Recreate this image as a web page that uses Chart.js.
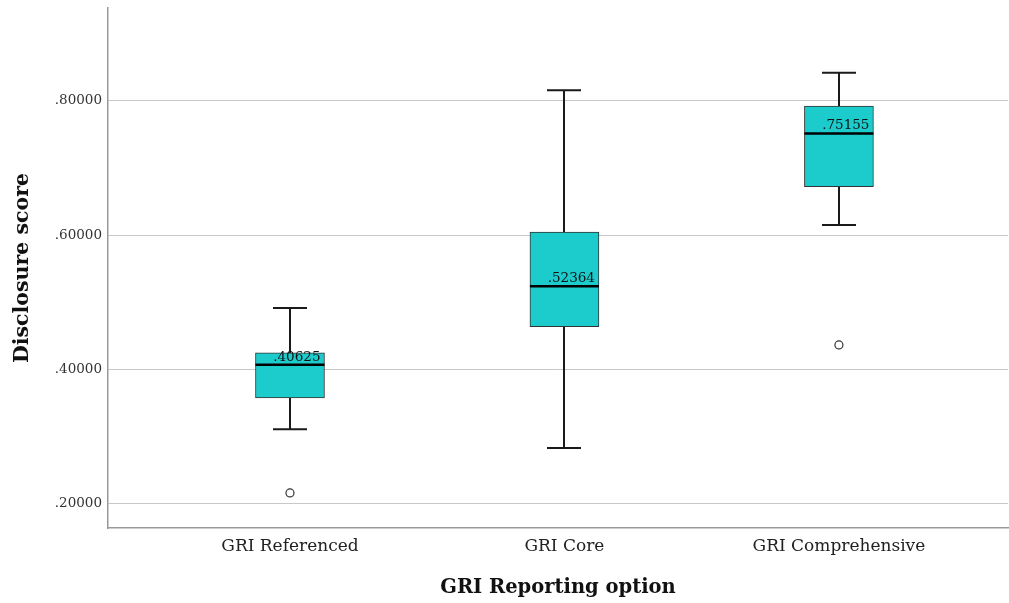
<!DOCTYPE html>
<html>
<head>
<meta charset="utf-8">
<script src="https://cdn.jsdelivr.net/npm/chart.js@4/dist/chart.umd.min.js"></script>
<style>
html,body{margin:0;padding:0;background:#fff;}
#wrap{width:1009px;height:603px;position:relative;}
</style>
</head>
<body>
<div id="wrap"><canvas id="c" width="1009" height="603"></canvas></div>
<script>
const categories = ["GRI Referenced", "GRI Core", "GRI Comprehensive"];
const whiskerLow = [0.310, 0.282, 0.615];
const q1 = [0.357, 0.463, 0.672];
const median = [0.40625, 0.52364, 0.75155];
const q3 = [0.424, 0.6045, 0.7925];
const whiskerHigh = [0.491, 0.816, 0.842];
const outliers = [[0.215], [], [0.436]];
const yTicks = [0.2, 0.4, 0.6, 0.8];

const SERIF = '"DejaVu Serif", "Liberation Serif", serif';

const boxData = categories.map((c, i) => ({ x: i + 1, y: [q1[i], q3[i]] }));
const outlierData = [];
outliers.forEach((arr, i) => arr.forEach(v => outlierData.push({ x: i + 1, y: v })));

const fmt = v => v.toFixed(5).replace(/^0/, '');

const boxPlugin = {
  id: 'boxExtras',
  beforeDatasetsDraw(chart) {
    const ctx = chart.ctx, xs = chart.scales.x, ys = chart.scales.y;
    ctx.save();
    ctx.strokeStyle = '#1a1a1a';
    ctx.lineWidth = 2;
    const capHalf = 17;
    categories.forEach((c, i) => {
      const x = Math.round(xs.getPixelForValue(i + 1));
      const yh = ys.getPixelForValue(whiskerHigh[i]);
      const yq3 = ys.getPixelForValue(q3[i]);
      const yq1 = ys.getPixelForValue(q1[i]);
      const yl = ys.getPixelForValue(whiskerLow[i]);
      ctx.beginPath();
      ctx.moveTo(x, yh); ctx.lineTo(x, yq3);
      ctx.moveTo(x, yq1); ctx.lineTo(x, yl);
      ctx.moveTo(x - capHalf, yh); ctx.lineTo(x + capHalf, yh);
      ctx.moveTo(x - capHalf, yl); ctx.lineTo(x + capHalf, yl);
      ctx.stroke();
    });
    ctx.restore();
  },
  afterDatasetsDraw(chart) {
    const ctx = chart.ctx, ys = chart.scales.y;
    const meta = chart.getDatasetMeta(0);
    ctx.save();
    categories.forEach((c, i) => {
      const bar = meta.data[i];
      const half = bar.width / 2;
      const x = bar.x;
      const ym = ys.getPixelForValue(median[i]);
      ctx.strokeStyle = '#000';
      ctx.lineWidth = 2.5;
      ctx.beginPath();
      ctx.moveTo(x - half, ym); ctx.lineTo(x + half, ym);
      ctx.stroke();
      ctx.fillStyle = '#111';
      ctx.font = '13.5px ' + SERIF;
      ctx.textAlign = 'right';
      ctx.textBaseline = 'alphabetic';
      ctx.fillText(fmt(median[i]), x + half - 4, ym - 4);
    });
    ctx.restore();
  }
};

new Chart(document.getElementById('c'), {
  type: 'bar',
  data: {
    datasets: [
      {
        type: 'bar',
        data: boxData,
        backgroundColor: '#1ccccc',
        borderColor: '#333',
        borderWidth: 1,
        borderSkipped: false,
        barThickness: 69,
        order: 2
      },
      {
        type: 'scatter',
        data: outlierData,
        pointStyle: 'circle',
        pointRadius: 4,
        pointBackgroundColor: '#fff',
        pointBorderColor: '#333',
        pointBorderWidth: 1.2,
        order: 1
      }
    ]
  },
  plugins: [boxPlugin],
  options: {
    responsive: false,
    animation: false,
    layout: { autoPadding: false, padding: { top: 8, right: 1, left: 0, bottom: 0 } },
    plugins: { legend: { display: false }, tooltip: { enabled: false } },
    scales: {
      x: {
        type: 'linear',
        offset: false,
        min: 0.337,
        max: 3.616,
        afterBuildTicks(scale) { scale.ticks = categories.map((c, i) => ({ value: i + 1 })); },
        ticks: {
          callback: (v) => categories[v - 1] || '',
          font: { family: SERIF, size: 17 },
          color: '#222',
          padding: 8,
          maxRotation: 0,
          autoSkip: false
        },
        grid: { display: false, drawTicks: false },
        border: { display: true, color: '#999', width: 1.5 },
        title: {
          display: true,
          text: 'GRI Reporting option',
          font: { family: SERIF, size: 19.5, weight: 'bold' },
          color: '#111',
          padding: { top: 5, bottom: 3 }
        },
        afterFit(scale) { scale.height = 75; scale.paddingLeft = 0; scale.paddingRight = 0; }
      },
      y: {
        type: 'linear',
        min: 0.1627,
        max: 0.9388,
        afterBuildTicks(scale) { scale.ticks = yTicks.map(v => ({ value: v })); },
        ticks: {
          callback: (v) => fmt(v),
          font: { family: SERIF, size: 13.5 },
          color: '#333',
          padding: 6
        },
        grid: { color: '#c8c8c8', lineWidth: 1, drawTicks: false },
        border: { display: true, color: '#999', width: 1.5 },
        title: {
          display: true,
          text: 'Disclosure score',
          font: { family: SERIF, size: 20.5, weight: 'bold' },
          color: '#111',
          padding: { top: 10, bottom: 10 }
        },
        afterFit(scale) { scale.width = 108; scale.paddingTop = 0; scale.paddingBottom = 0; }
      }
    }
  }
});
</script>
</body>
</html>
